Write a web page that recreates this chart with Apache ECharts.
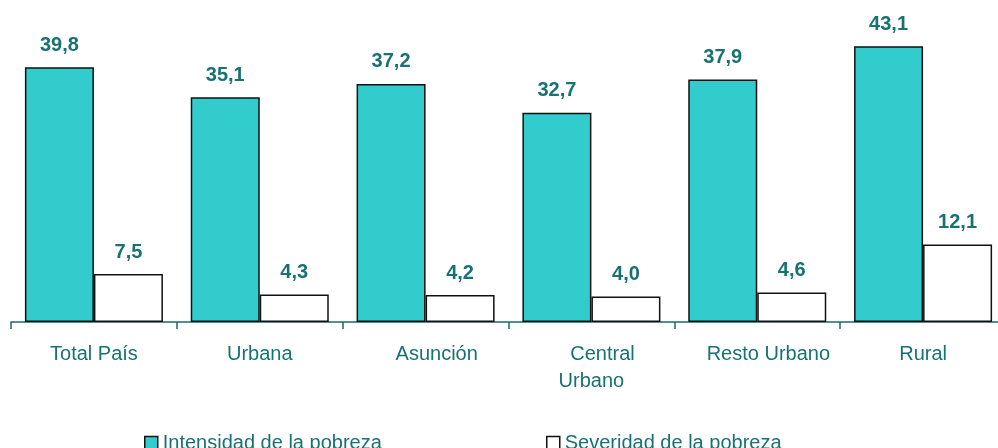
<!DOCTYPE html>
<html>
<head>
<meta charset="utf-8">
<script src="https://cdn.jsdelivr.net/npm/echarts@6/dist/echarts.min.js"></script>
<style>
  html, body { margin: 0; padding: 0; background: #fff; }
  #chart { width: 998px; height: 448px; }
</style>
</head>
<body>
<div id="chart"></div>
<script>
var categories = ['Total País', 'Urbana', '    Asunción', '    Central\nUrbano', '    Resto Urbano', 'Rural'];
var intensidad = [39.8, 35.1, 37.2, 32.7, 37.9, 43.1];
var severidad = [7.5, 4.3, 4.2, 4.0, 4.6, 12.1];
var seriesNames = ['Intensidad de la pobreza', 'Severidad de la pobreza'];

var textColor = '#187272';
var font = 'Liberation Sans, Arial, sans-serif';

var chart = echarts.init(document.getElementById('chart'));

function fmt(p) {
  return p.value.toFixed(1).replace('.', ',');
}

var legendBase = {
  top: 428, icon: 'rect',
  itemWidth: 13, itemHeight: 13, itemGap: 5,
  itemStyle: { borderColor: '#111', borderWidth: 1.5 },
  textStyle: { color: textColor, fontSize: 20, fontFamily: font }
};

var option = {
  animation: false,
  grid: { left: 11, width: 995, top: 34, bottom: 126, outerBoundsMode: 'none', containLabel: false },
  legend: [
    Object.assign({}, legendBase, { data: [seriesNames[0]], left: 139 }),
    Object.assign({}, legendBase, { data: [seriesNames[1]], left: 541 })
  ],
  xAxis: {
    type: 'category',
    data: categories,
    axisLine: { lineStyle: { color: '#1d6a6a', width: 1.5 } },
    axisTick: { show: true, alignWithLabel: false, interval: 0, length: 7, lineStyle: { color: '#1d6a6a', width: 1.5 } },
    axisLabel: {
      interval: 0,
      color: textColor, fontSize: 20, fontFamily: font,
      margin: 19, lineHeight: 27, verticalAlign: 'top'
    }
  },
  yAxis: { type: 'value', min: 0, max: 45, show: false },
  series: [
    {
      name: seriesNames[0], type: 'bar', data: intensidad,
      barWidth: 69, barGap: '0%',
      itemStyle: { color: '#33cccc', borderColor: '#111', borderWidth: 1.5 },
      label: {
        show: true, position: 'top', distance: 12, formatter: fmt,
        color: textColor, fontSize: 20, fontWeight: 'bold', fontFamily: font
      }
    },
    {
      name: seriesNames[1], type: 'bar', data: severidad,
      barWidth: 69, barGap: '0%',
      itemStyle: { color: '#ffffff', borderColor: '#111', borderWidth: 1.5 },
      label: {
        show: true, position: 'top', distance: 12, formatter: fmt,
        color: textColor, fontSize: 20, fontWeight: 'bold', fontFamily: font
      }
    }
  ]
};

chart.setOption(option);
</script>
</body>
</html>
